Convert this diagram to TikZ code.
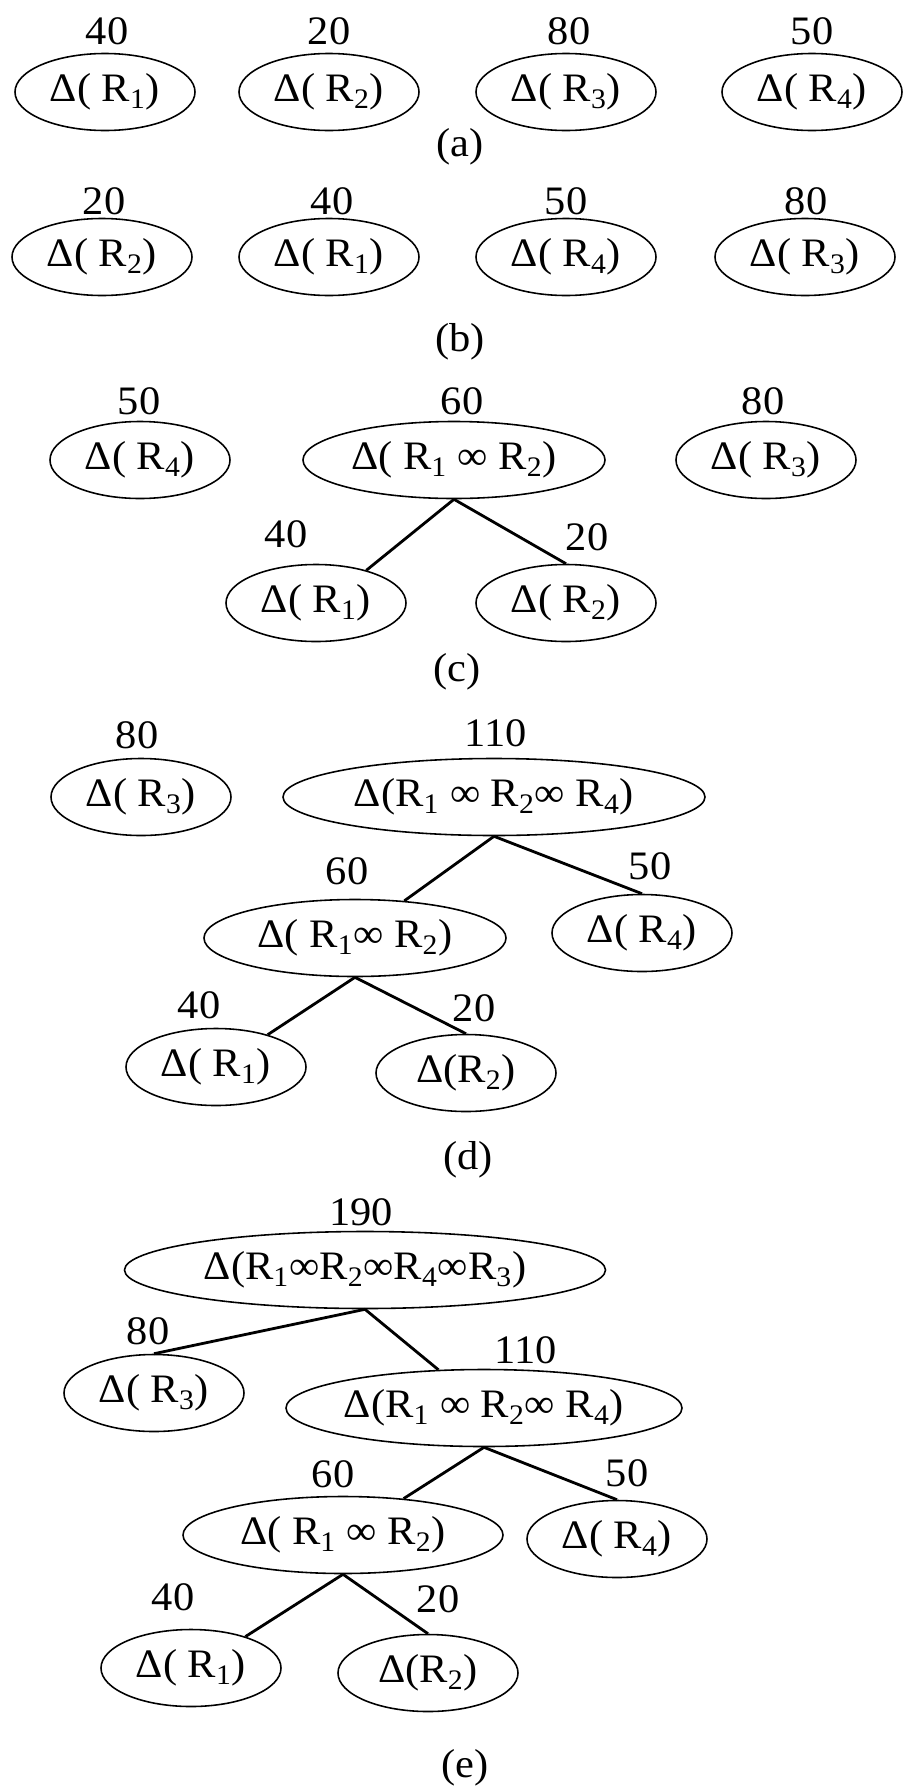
\documentclass[tikz,border=0pt]{standalone}
\usepackage{fontspec}
\setmainfont[FakeStretch=1.05]{Liberation Serif}
\usepackage{tikz}
\usetikzlibrary{shapes.geometric}
\newcommand{\rl}[1]{R\textsubscript{#1}}

\begin{document}
\begin{tikzpicture}[font=\fontsize{23}{27}\selectfont,
            rel/.style={ellipse, draw, line width=0.9pt, minimum width=3.6cm, minimum height=1.54cm, inner sep=0pt},
            pair/.style={rel, minimum width=6.04cm},
            triple/.style={rel, minimum width=8.44cm},
            quad/.style={rel, minimum width=9.62cm},
            cost/.style={inner sep=0pt},
            tag/.style={inner sep=0pt},
            link/.style={line width=1.6pt}]
            \useasboundingbox (0,0) rectangle (18.12,-35.76);
            % (a)
            \node[cost] (la1) at (2.14,-0.62) {40};
            \node[cost] (la2) at (6.58,-0.62) {20};
            \node[cost] (la3) at (11.38,-0.62) {80};
            \node[cost] (la4) at (16.24,-0.62) {50};
            \node[rel] (a1) at (2.1,-1.84) {Δ( \rl{1})};
            \node[rel] (a2) at (6.58,-1.84) {Δ( \rl{2})};
            \node[rel] (a3) at (11.32,-1.84) {Δ( \rl{3})};
            \node[rel] (a4) at (16.24,-1.84) {Δ( \rl{4})};
            \node[tag] (taga) at (9.2,-2.94) {(a)};
            % (b)
            \node[cost] (lb2) at (2.08,-4.02) {20};
            \node[cost] (lb1) at (6.64,-4.02) {40};
            \node[cost] (lb4) at (11.32,-4.02) {50};
            \node[cost] (lb3) at (16.12,-4.02) {80};
            \node[rel] (b2) at (2.04,-5.14) {Δ( \rl{2})};
            \node[rel] (b1) at (6.58,-5.14) {Δ( \rl{1})};
            \node[rel] (b4) at (11.32,-5.14) {Δ( \rl{4})};
            \node[rel] (b3) at (16.1,-5.14) {Δ( \rl{3})};
            \node[tag] (tagb) at (9.2,-6.84) {(b)};
            % (c)
            \node[cost] (lc4) at (2.78,-8.02) {50};
            \node[cost] (lc12) at (9.24,-8.02) {60};
            \node[cost] (lc3) at (15.26,-8.02) {80};
            \node[rel] (c4) at (2.8,-9.2) {Δ( \rl{4})};
            \node[pair] (c12) at (9.08,-9.2) {Δ( \rl{1} ∞ \rl{2})};
            \node[rel] (c3) at (15.32,-9.2) {Δ( \rl{3})};
            \node[cost] (lc1) at (5.72,-10.68) {40};
            \node[cost] (lc2) at (11.74,-10.74) {20};
            \node[rel] (c1) at (6.32,-12.06) {Δ( \rl{1})};
            \node[rel] (c2) at (11.32,-12.06) {Δ( \rl{2})};
            \draw[link] (c12.south) -- (c1.33);
            \draw[link] (c12.south) -- (c2.north);
            \node[tag] (tagc) at (9.14,-13.44) {(c)};
            % (d)
            \node[cost] (ld3) at (2.74,-14.7) {80};
            \node[cost] (ld124) at (9.92,-14.66) {110};
            \node[rel] (d3) at (2.82,-15.94) {Δ( \rl{3})};
            \node[triple] (d124) at (9.88,-15.94) {Δ(\rl{1} ∞ \rl{2}∞ \rl{4})};
            \node[cost] (ld12) at (6.94,-17.42) {60};
            \node[cost] (ld4) at (13,-17.32) {50};
            \node[pair] (d12) at (7.1,-18.76) {Δ( \rl{1}∞ \rl{2})};
            \node[rel] (d4) at (12.84,-18.66) {Δ( \rl{4})};
            \draw[link] (d124.south) -- (d12.37);
            \draw[link] (d124.south) -- (d4.north);
            \node[cost] (ld1) at (3.98,-20.1) {40};
            \node[cost] (ld2) at (9.48,-20.16) {20};
            \node[rel] (d1) at (4.32,-21.34) {Δ( \rl{1})};
            \node[rel] (d2) at (9.32,-21.46) {Δ(\rl{2})};
            \draw[link] (d12.south) -- (d1.32);
            \draw[link] (d12.south) -- (d2.north);
            \node[tag] (tagd) at (9.36,-23.2) {(d)};
            % (e)
            \node[cost] (le1243) at (7.22,-24.24) {190};
            \node[quad] (e1243) at (7.3,-25.4) {Δ(\rl{1}∞\rl{2}∞\rl{4}∞\rl{3})};
            \node[cost] (le3) at (2.96,-26.62) {80};
            \node[cost] (le124) at (10.52,-27) {110};
            \node[rel] (e3) at (3.08,-27.86) {Δ( \rl{3})};
            \node[triple, minimum width=7.64cm] (e124) at (9.68,-28.16) {Δ(\rl{1} ∞ \rl{2}∞ \rl{4})};
            \draw[link] (e1243.south) -- (e3.north);
            \draw[link] (e1243.south) -- (e124.140);
            \node[cost] (le12) at (6.66,-29.48) {60};
            \node[cost] (le4) at (12.54,-29.46) {50};
            \node[pair, minimum width=6.4cm] (e12) at (6.86,-30.7) {Δ( \rl{1} ∞ \rl{2})};
            \node[rel] (e4) at (12.34,-30.78) {Δ( \rl{4})};
            \draw[link] (e124.south) -- (e12.31);
            \draw[link] (e124.south) -- (e4.north);
            \node[cost] (le1) at (3.46,-31.94) {40};
            \node[cost] (le2) at (8.76,-31.98) {20};
            \node[rel] (e1) at (3.82,-33.36) {Δ( \rl{1})};
            \node[rel] (e2) at (8.56,-33.46) {Δ(\rl{2})};
            \draw[link] (e12.south) -- (e1.30);
            \draw[link] (e12.south) -- (e2.north);
            \node[tag] (tage) at (9.3,-35.36) {(e)};
        \end{tikzpicture}
\end{document}
